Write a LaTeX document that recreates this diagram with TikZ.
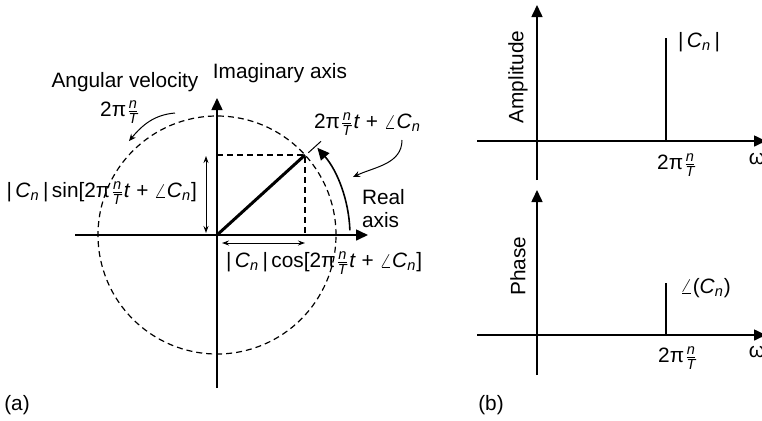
\documentclass[tikz,border=0pt]{standalone}
\usepackage{amsmath}
\usepackage{fontspec}
\setmainfont{Liberation Sans}
\usetikzlibrary{arrows.meta}

\newcommand{\wn}{2π$\frac{\textit{n}}{\textit{T}}$}
\newcommand{\Cn}{\textit{C}$_{\textit{n}}$}
\newcommand{\phasearg}{\wn\textit{t} + $\angle$\Cn}

\begin{document}
\begin{tikzpicture}[
    x=0.5pt, y=-0.5pt,
    font=\fontsize{10.4}{11.5}\selectfont,
    axis/.style={line width=0.8pt, -{Triangle[length=6pt,width=5.5pt]}},
    dashline/.style={line width=0.6pt, dash pattern=on 3pt off 2pt},
    vec/.style={line width=1.5pt},
    spike/.style={line width=1.4pt},
    thin line/.style={line width=0.5pt},
    dimarrow/.style={line width=0.5pt, {Stealth[length=3.5pt,width=2.5pt]}-{Stealth[length=3.5pt,width=2.5pt]}},
    pointer/.style={line width=0.5pt, -{Stealth[length=3.5pt,width=3pt]}}
]
\useasboundingbox (0,0) rectangle (762,420);
\clip (0,0) rectangle (762,420);

% (a) rotating phasor
\coordinate (o) at (217,235);
\coordinate (p) at (305,155);
\coordinate (ybot) at (217,388);
\coordinate (ytop) at (217,98);
\coordinate (xleft) at (75,235);
\coordinate (xright) at (368,235);
\coordinate (py) at (217,155);
\coordinate (px) at (305,235);
\coordinate (tick1) at (308.4,152.7);
\coordinate (tick2) at (321,141.3);
\coordinate (arcstart) at (349.9,230.4);
\coordinate (s1) at (206,156);
\coordinate (s2) at (206,233);
\coordinate (c1) at (222,243);
\coordinate (c2) at (305,243);

\draw[dashline] (o) circle[radius=59.5pt];
\draw[axis] (ybot) -- (ytop);
\draw[axis] (xleft) -- (xright);
\draw[dashline] (py) -- (p) -- (px);
\draw[vec] (o) -- (p);
\draw[thin line] (tick1) -- (tick2);
\draw[axis] (arcstart) arc[start angle=2, end angle=41, radius=66.5pt];
\draw[dimarrow] (s1) -- (s2);
\draw[dimarrow] (c1) -- (c2);

\node[anchor=east] (sinlbl) at (204,193) {|\,\Cn\,|\,sin[\phasearg]};
\node[anchor=west] (coslbl) at (219,263) {|\,\Cn\,|\,cos[\phasearg]};
\node[anchor=west] (anglbl) at (307,124) {\phasearg};
\node[anchor=west, align=left] (real) at (355,209) {Real\\axis};
\node (imag) at (280,73) {Imaginary axis};
\node (angvel) at (125,82) {Angular velocity};
\node (wlbl) at (120,112) {\wn};

\coordinate (w1) at (175,113);
\coordinate (w2) at (129,141);
\coordinate (q1) at (402,140);
\coordinate (q2) at (353,177);
\draw[pointer] (w1) to[out=185,in=50] (w2);
\draw[pointer] (q1) to[out=-90,in=25] (q2);

\node (laba) at (17,405) {(a)};
\node (labb) at (491,405) {(b)};

% (b) amplitude and phase spectra
\coordinate (ampl) at (477,141);
\coordinate (ampr) at (766,141);
\coordinate (ampb) at (537,180);
\coordinate (ampt) at (537,5);
\coordinate (amp0) at (666,141);
\coordinate (amp1) at (666,38);
\draw[axis] (ampl) -- (ampr);
\draw[axis] (ampb) -- (ampt);
\draw[spike] (amp0) -- (amp1);
\node[anchor=west] (cnlbl) at (671,42) {|\,\Cn\,|};
\node[rotate=90] (amplbl) at (518,77) {Amplitude};
\node (wamp) at (677,165) {\wn};
\node (omamp) at (757,159) {ω};

\coordinate (phl) at (477,335);
\coordinate (phr) at (766,335);
\coordinate (phb) at (537,375);
\coordinate (pht) at (537,190);
\coordinate (ph0) at (666,335);
\coordinate (ph1) at (666,283);
\draw[axis] (phl) -- (phr);
\draw[axis] (phb) -- (pht);
\draw[spike] (ph0) -- (ph1);
\node[anchor=west] (anglelbl) at (673,288) {$\angle$(\Cn)};
\node[rotate=90] (phlbl) at (518,266) {Phase};
\node (wph) at (678,358) {\wn};
\node (omph) at (757,352) {ω};
\end{tikzpicture}
\end{document}
